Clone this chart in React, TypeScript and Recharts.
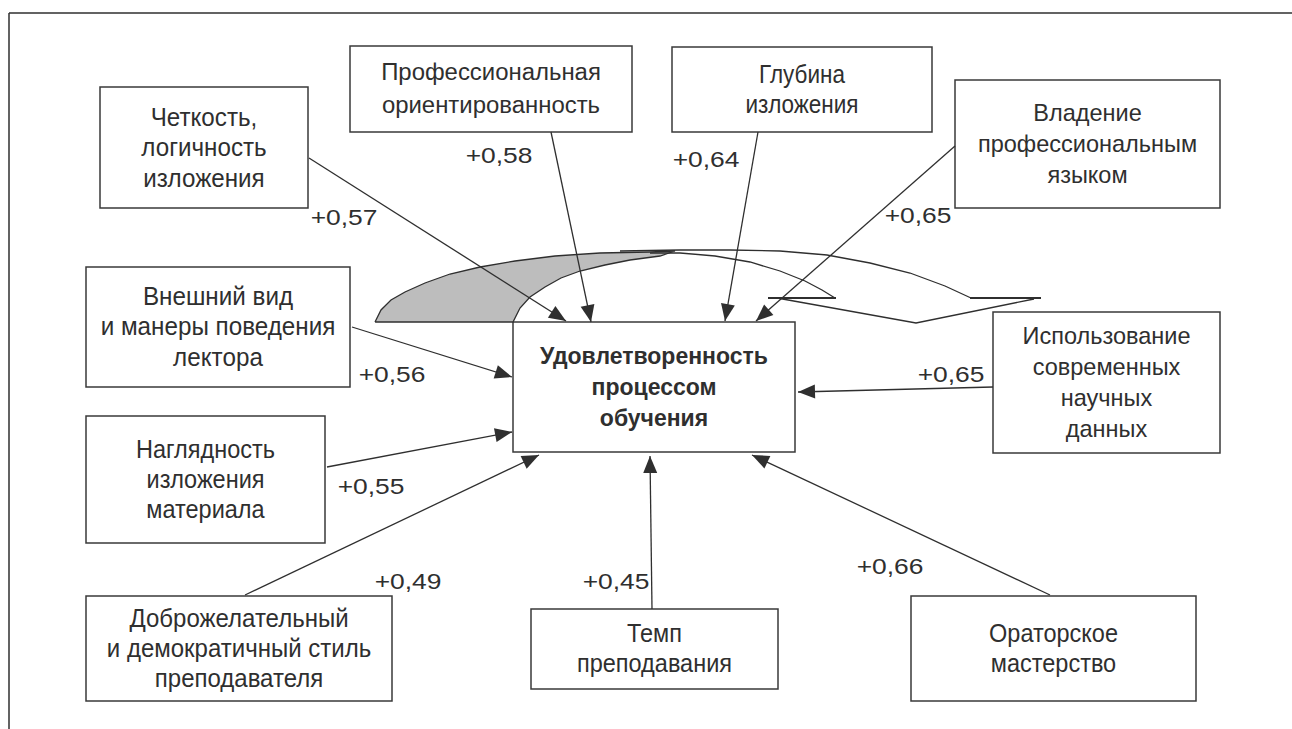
import { ScatterChart, Scatter, XAxis, YAxis, ReferenceArea, ReferenceLine } from 'recharts';

const FONT = '"Liberation Sans", Arial, sans-serif';
const INK = '#2f2f2f';

// Factors (boxes) and their correlation with the target
const FACTORS: string[][] = [
  ['Четкость,', 'логичность', 'изложения'],
  ['Профессиональная', 'ориентированность'],
  ['Глубина', 'изложения'],
  ['Владение', 'профессиональным', 'языком'],
  ['Внешний вид', 'и манеры поведения', 'лектора'],
  ['Использование', 'современных', 'научных', 'данных'],
  ['Наглядность', 'изложения', 'материала'],
  ['Доброжелательный', 'и демократичный стиль', 'преподавателя'],
  ['Темп', 'преподавания'],
  ['Ораторское', 'мастерство'],
];
const COEFFICIENTS = ['+0,57', '+0,58', '+0,64', '+0,65', '+0,56', '+0,65', '+0,55', '+0,49', '+0,45', '+0,66'];
const TARGET = ['Удовлетворенность', 'процессом', 'обучения'];

// Layout in canvas units (x1, x2, y1, y2), same order as FACTORS
const BOXES = [
  [100, 308, 87, 208], [350, 632, 46, 132], [672, 932, 47, 132], [955, 1220, 80, 208],
  [86, 350, 267, 387], [993, 1220, 312, 453], [86, 325, 416, 543], [86, 392, 596, 701],
  [531, 778, 609, 689], [911, 1196, 596, 701],
];
const LINE_GAPS = [30.5, 32.5, 29.5, 31, 30.5, 31, 30, 30, 30, 30];
const FONT_SIZES = [26, 23, 25, 24, 25, 24, 25, 25, 25, 25];
const STRETCH = [0.93, 1.04, 0.9, 0.98, 0.97, 0.98, 0.94, 0.96, 0.94, 0.94];
const TARGET_BOX = [513, 795, 322, 452];
const ARROW_FROM = [
  [309, 158], [551, 132], [758, 132], [955, 146], [352, 327],
  [993, 387], [327, 467], [245, 595], [652, 609], [1050, 595],
];
const ARROW_TO = [
  [566, 321], [591, 322], [725, 321], [756, 321], [512, 377],
  [798, 392], [512, 432], [539, 455], [650, 456], [752, 455],
];
const LABEL_POS = [
  [344, 217], [499, 155], [706, 159], [918, 215], [392, 374],
  [951, 374], [371, 486], [408, 581], [616, 581], [890, 566],
];

// the broken curved arrow drawn above the target box
const CRESCENT = [
  [375, 322], [381, 310], [391, 300], [405, 292], [425, 283], [450, 274], [480, 267], [515, 261],
  [555, 256], [600, 253], [650, 252], [675, 251], [660, 256], [630, 260], [605, 265], [580, 271],
  [561, 278], [545, 287], [530, 297], [520, 308], [513, 322], [375, 322],
];
const ARC_INNER = [[650, 253], [680, 253], [715, 256], [750, 262], [780, 271], [805, 281], [822, 290], [835, 298]];
const ARC_OUTER = [[620, 251], [680, 250], [730, 250], [780, 251], [827, 255], [870, 263], [910, 273], [945, 286], [971, 298]];
const STUB_1 = [[768, 298], [836, 298]];
const STUB_2 = [[970, 298], [1041, 298]];
const ZIGZAG = [[777, 298], [916, 323], [1034, 299]];

const toPts = (arr: number[][]) => arr.map(([x, y]) => ({ x, y }));

const Nothing = () => <g />;

const ArrowTip = (props: any) => {
  const { cx, cy, payload } = props;
  if (!payload || !payload.tip) return <g />;
  const ang = (Math.atan2(payload.y - payload.fy, payload.x - payload.fx) * 180) / Math.PI;
  return <path d="M0,0 L-17,-7 L-17,7 Z" fill={INK} transform={`translate(${cx},${cy}) rotate(${ang})`} />;
};

const BoxText = (props: any) => {
  const { cx, cy, payload } = props;
  const n = payload.lines.length;
  const fs = payload.fs;
  return (
    <g transform={`translate(${cx},${cy}) scale(${payload.sx},1)`}>
      {payload.lines.map((t: string, i: number) => (
        <text
          key={i}
          x={0}
          y={(i - (n - 1) / 2) * payload.gap + fs * 0.33}
          textAnchor="middle"
          fontFamily={FONT}
          fontSize={fs}
          fontWeight={payload.bold ? 700 : 400}
          fill={INK}
        >
          {t}
        </text>
      ))}
    </g>
  );
};

const CoefText = (props: any) => {
  const { cx, cy, payload } = props;
  return (
    <g transform={`translate(${cx},${cy}) scale(1.2,1)`}>
      <text x={0} y={22 * 0.36} textAnchor="middle" fontFamily={FONT} fontSize={22} fill={INK}>
        {payload.label}
      </text>
    </g>
  );
};

export default function App() {
  const boxText = FACTORS.map((lines, i) => ({
    x: (BOXES[i][0] + BOXES[i][1]) / 2,
    y: (BOXES[i][2] + BOXES[i][3]) / 2,
    lines,
    gap: LINE_GAPS[i],
    fs: FONT_SIZES[i],
    sx: STRETCH[i],
  }));
  const targetText = [{
    x: (TARGET_BOX[0] + TARGET_BOX[1]) / 2,
    y: (TARGET_BOX[2] + TARGET_BOX[3]) / 2,
    lines: TARGET,
    gap: 31,
    fs: 23,
    sx: 1,
    bold: true,
  }];
  const coefs = COEFFICIENTS.map((label, i) => ({ x: LABEL_POS[i][0], y: LABEL_POS[i][1], label }));

  const thin = { stroke: INK, strokeWidth: 1.3 };

  return (
    <div style={{ position: 'absolute', left: 0, top: 0, width: 1292, height: 729, background: '#fff' }}>
      <ScatterChart width={1292} height={729} margin={{ top: 0, right: 0, bottom: 0, left: 0 }}>
        <XAxis type="number" dataKey="x" domain={[0, 1292]} hide />
        <YAxis type="number" dataKey="y" domain={[0, 729]} reversed hide />

        <ReferenceLine segment={[{ x: 9, y: 13 }, { x: 1292, y: 13 }]} stroke={INK} strokeWidth={1.5} ifOverflow="visible" />
        <ReferenceLine segment={[{ x: 9, y: 13 }, { x: 9, y: 729 }]} stroke={INK} strokeWidth={1.5} ifOverflow="visible" />

        <Scatter data={toPts(CRESCENT)} line={{ ...thin, fill: '#bdbdbd' }} shape={Nothing} isAnimationActive={false} />
        <Scatter data={toPts(ARC_INNER)} line={thin} shape={Nothing} isAnimationActive={false} />
        <Scatter data={toPts(ARC_OUTER)} line={thin} shape={Nothing} isAnimationActive={false} />
        <Scatter data={toPts(STUB_1)} line={{ stroke: INK, strokeWidth: 1.8 }} shape={Nothing} isAnimationActive={false} />
        <Scatter data={toPts(STUB_2)} line={{ stroke: INK, strokeWidth: 1.8 }} shape={Nothing} isAnimationActive={false} />
        <Scatter data={toPts(ZIGZAG)} line={thin} shape={Nothing} isAnimationActive={false} />

        {BOXES.map((b, i) => (
          <ReferenceArea
            key={`box-${i}`}
            x1={b[0]} x2={b[1]} y1={b[2]} y2={b[3]}
            fill="#fff" fillOpacity={1} stroke="#3a3a3a" strokeWidth={1.5}
            ifOverflow="visible"
          />
        ))}
        <ReferenceArea
          x1={TARGET_BOX[0]} x2={TARGET_BOX[1]} y1={TARGET_BOX[2]} y2={TARGET_BOX[3]}
          fill="#fff" fillOpacity={1} stroke="#3a3a3a" strokeWidth={1.5} ifOverflow="visible"
        />

        {ARROW_FROM.map((f, i) => (
          <Scatter
            key={`arrow-${i}`}
            data={[
              { x: f[0], y: f[1] },
              { x: ARROW_TO[i][0], y: ARROW_TO[i][1], tip: true, fx: f[0], fy: f[1] },
            ]}
            line={thin}
            shape={ArrowTip}
            isAnimationActive={false}
          />
        ))}

        <Scatter data={boxText} shape={BoxText} isAnimationActive={false} />
        <Scatter data={targetText} shape={BoxText} isAnimationActive={false} />
        <Scatter data={coefs} shape={CoefText} isAnimationActive={false} />
      </ScatterChart>
    </div>
  );
}
